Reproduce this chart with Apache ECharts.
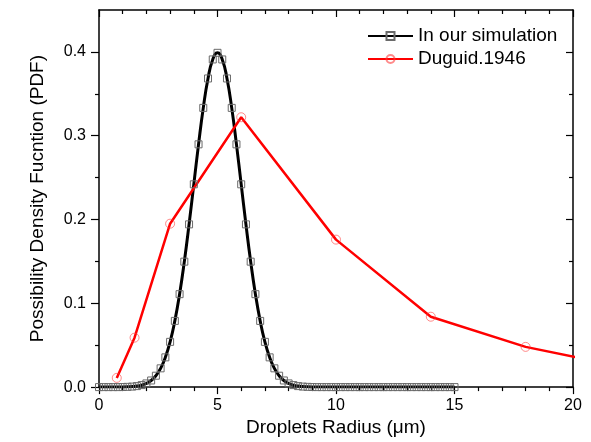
<!DOCTYPE html>
<html>
<head>
<meta charset="utf-8">
<script src="https://cdn.jsdelivr.net/npm/echarts@6/dist/echarts.min.js"></script>
<style>
html,body{margin:0;padding:0;background:#fff;}
#chart{width:591px;height:442px;}
</style>
</head>
<body>
<div id="chart"></div>
<script>
// Simulation (black, squares): radius and PDF
var simRadius = [0.0,0.2,0.4,0.6,0.8,1.0,1.2,1.4,1.6,1.8,2.0,2.2,2.4,2.6,2.8,3.0,3.2,3.4,3.6,3.8,
  4.0,4.2,4.4,4.6,4.8,5.0,5.2,5.4,5.6,5.8,6.0,6.2,6.4,6.6,6.8,7.0,7.2,7.4,7.6,7.8,
  8.0,8.2,8.4,8.6,8.8,9.0,9.2,9.4,9.6,9.8,10.0,10.2,10.4,10.6,10.8,11.0,11.2,11.4,11.6,11.8,
  12.0,12.2,12.4,12.6,12.8,13.0,13.2,13.4,13.6,13.8,14.0,14.2,14.4,14.6,14.8,15.0];
var simPdf = [0.0000,0.0000,0.0000,0.0000,0.0000,0.0001,0.0003,0.0006,0.0012,0.0024,
  0.0044,0.0079,0.0136,0.0224,0.0355,0.0540,0.0790,0.1109,0.1497,0.1942,
  0.2420,0.2897,0.3332,0.3683,0.3910,0.3989,0.3910,0.3683,0.3332,0.2897,
  0.2420,0.1942,0.1497,0.1109,0.0790,0.0540,0.0355,0.0224,0.0136,0.0079,
  0.0044,0.0024,0.0012,0.0006,0.0003,0.0001,0.0000,0.0000,0.0000,0.0000,
  0.0000,0.0000,0.0000,0.0000,0.0000,0.0000,0.0000,0.0000,0.0000,0.0000,
  0.0000,0.0000,0.0000,0.0000,0.0000,0.0000,0.0000,0.0000,0.0000,0.0000,
  0.0000,0.0000,0.0000,0.0000,0.0000,0.0000];
// Duguid 1946 (red, circles)
var dugRadius = [0.75,1.5,3.0,6.0,10.0,14.0,18.0,22.0];
var dugPdf = [0.011,0.059,0.195,0.322,0.176,0.084,0.048,0.025];
// Axis ticks
var xTicks = [0,5,10,15,20];
var yMajor = [0,0.1,0.2,0.3,0.4];
var yMinor = [0.05,0.15,0.25,0.35];

var seriesNames = ['In our simulation','Duguid.1946'];
var FONT = '"Liberation Sans", Arial, sans-serif';

function pairs(xs, ys){ return xs.map(function(x,i){return [x, ys[i]];}); }

var chart = echarts.init(document.getElementById('chart'));
var axisLine = {show:true, onZero:false, lineStyle:{color:'#000', width:1.5}};
var noLine = {show:false, onZero:false};
var tickStyle = {color:'#000', width:1.2};
var baseX = {type:'value', min:xTicks[0], max:xTicks[xTicks.length-1], interval:5,
  splitLine:{show:false}, axisLine:axisLine};
var baseY = {type:'value', min:0, max:0.45, splitLine:{show:false}};

chart.setOption({
  backgroundColor:'#fff',
  animation:false,
  grid:{left:99, right:18, top:10, bottom:51, containLabel:false},
  legend:{
    left:362, top:20, orient:'vertical', itemWidth:45, itemHeight:10, itemGap:1,
    textStyle:{fontFamily:FONT, fontSize:19, color:'#000', lineHeight:22},
    data:seriesNames
  },
  xAxis:[
    Object.assign({}, baseX, {position:'bottom',
      axisTick:{show:true, length:7, lineStyle:tickStyle},
      minorTick:{show:true, splitNumber:5, length:4, lineStyle:tickStyle},
      axisLabel:{fontFamily:FONT, fontSize:16, color:'#000', margin:10},
      name:'Droplets Radius (\u03bcm)', nameLocation:'middle', nameGap:30,
      nameTextStyle:{fontFamily:FONT, fontSize:19, color:'#000'}}),
    Object.assign({}, baseX, {position:'top',
      axisTick:{show:true, inside:true, length:7, lineStyle:tickStyle},
      minorTick:{show:true, splitNumber:5, length:4, lineStyle:tickStyle},
      axisLabel:{show:false}})
  ],
  yAxis:[
    Object.assign({}, baseY, {position:'left', axisLine:axisLine,
      axisTick:{show:true, length:8, customValues:yMajor, lineStyle:tickStyle},
      axisLabel:{fontFamily:FONT, fontSize:16, color:'#000', margin:13, customValues:yMajor,
        formatter:function(v){return v.toFixed(1);}},
      name:'Possibility Density Fucntion (PDF)', nameLocation:'middle', nameGap:52,
      nameTextStyle:{fontFamily:FONT, fontSize:19, color:'#000'}}),
    Object.assign({}, baseY, {position:'right', axisLine:axisLine,
      axisTick:{show:true, inside:true, length:7, customValues:yMajor, lineStyle:tickStyle},
      axisLabel:{show:false}}),
    Object.assign({}, baseY, {position:'left', axisLine:noLine,
      axisTick:{show:true, length:4, customValues:yMinor, lineStyle:tickStyle},
      axisLabel:{show:false}}),
    Object.assign({}, baseY, {position:'right', axisLine:noLine,
      axisTick:{show:true, inside:true, length:4, customValues:yMinor, lineStyle:tickStyle},
      axisLabel:{show:false}})
  ],
  series:[
    {
      name:seriesNames[0], type:'line', xAxisIndex:0, yAxisIndex:0,
      data:pairs(simRadius, simPdf), smooth:true,
      symbol:'rect', symbolSize:7, showAllSymbol:true,
      lineStyle:{color:'#000', width:3},
      itemStyle:{color:'rgba(255,255,255,0)', borderColor:'#6a6a6a', borderWidth:1},
      emphasis:{disabled:true}
    },
    {
      name:seriesNames[1], type:'line', xAxisIndex:0, yAxisIndex:0,
      data:pairs(dugRadius, dugPdf),
      symbol:'circle', symbolSize:9, showAllSymbol:true,
      lineStyle:{color:'#ff0000', width:2.5},
      itemStyle:{color:'rgba(255,255,255,0)', borderColor:'rgba(255,60,60,0.6)', borderWidth:1},
      emphasis:{disabled:true}
    }
  ]
});
</script>
</body>
</html>
